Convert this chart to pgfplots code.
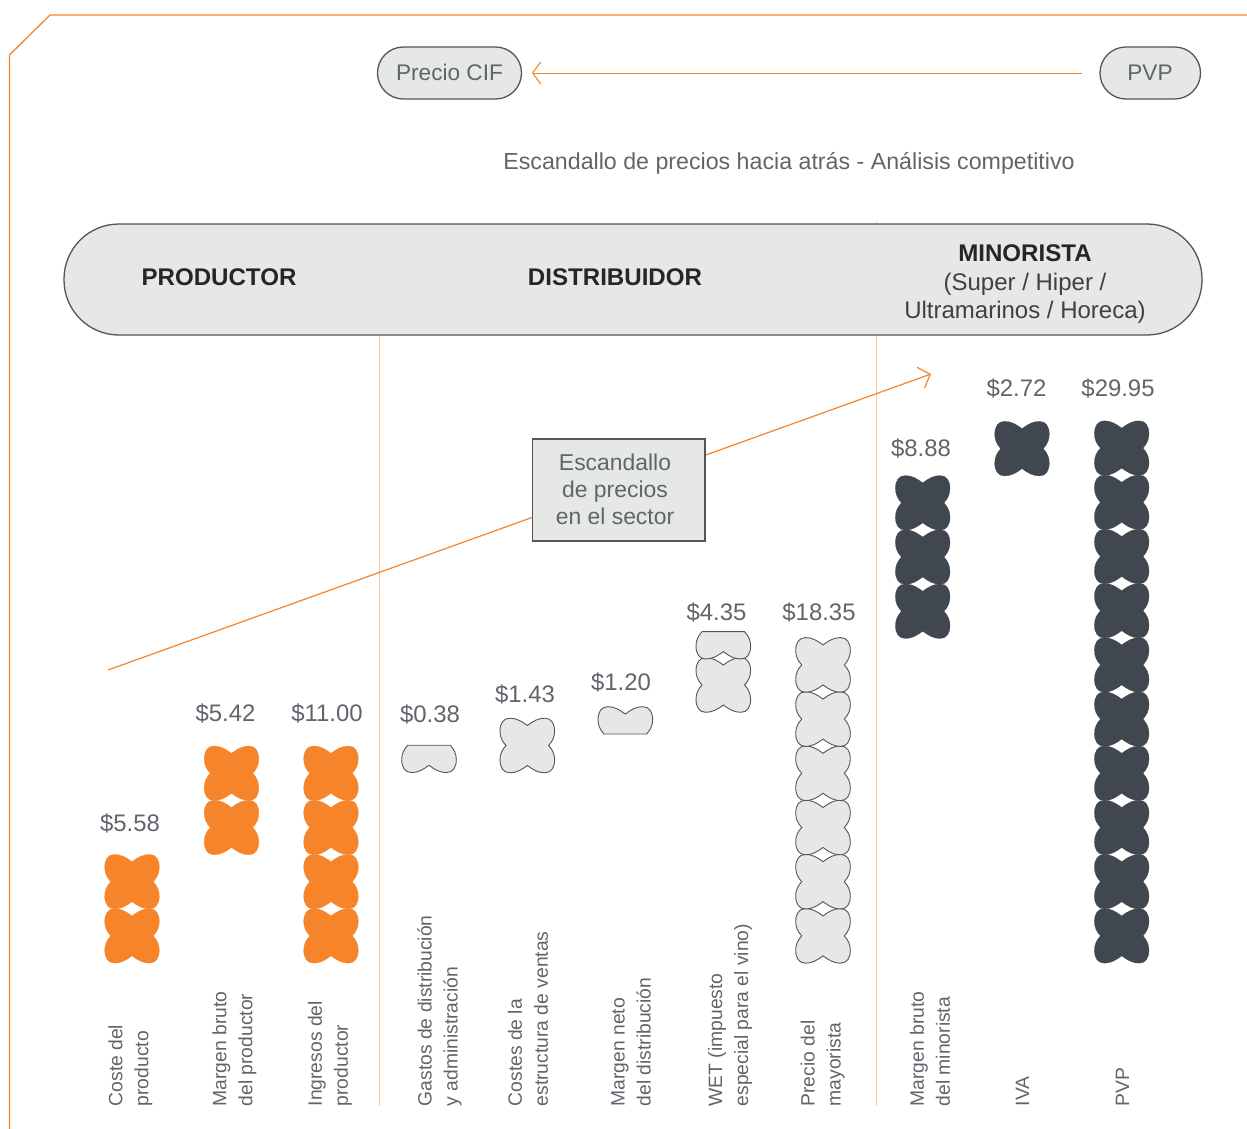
\documentclass[border=0pt]{standalone}
\usepackage{fontspec}
\setmainfont{Liberation Sans}
\usepackage{pgfplots}
\usepackage{pgfplotstable}
\pgfplotsset{compat=1.18}
\usetikzlibrary{arrows.meta}

\definecolor{Naranja}{HTML}{F5842A}
\definecolor{NaranjaClaro}{HTML}{F9C79B}
\definecolor{Oscuro}{HTML}{40474F}
\definecolor{Gris}{HTML}{E6E8E6}
\definecolor{Texto}{HTML}{5F656B}
\definecolor{Borde}{HTML}{50565C}

% one glyph: a four-lobed flower, 1pt = 1 reference pixel
\newcommand{\fc}[6]{\pgfpathcurveto{\pgfpoint{#1pt}{#2pt}}{\pgfpoint{#3pt}{#4pt}}{\pgfpoint{#5pt}{#6pt}}}
\newcommand{\lobeTR}{\fc{6}{24.5}{11}{27.3}{17.5}{27.3}\fc{24}{27.3}{27.3}{22}{27.3}{14.5}\fc{27.3}{9}{25.5}{4.5}{21.3}{0}}
\newcommand{\lobeBR}{\fc{25.5}{-4.5}{27.3}{-9}{27.3}{-14.5}\fc{27.3}{-22}{24}{-27.3}{17.5}{-27.3}\fc{11}{-27.3}{6}{-24.5}{0}{-20}}
\newcommand{\lobeBL}{\fc{-6}{-24.5}{-11}{-27.3}{-17.5}{-27.3}\fc{-24}{-27.3}{-27.3}{-22}{-27.3}{-14.5}\fc{-27.3}{-9}{-25.5}{-4.5}{-21.3}{0}}
\newcommand{\lobeTL}{\fc{-25.5}{4.5}{-27.3}{9}{-27.3}{14.5}\fc{-27.3}{22}{-24}{27.3}{-17.5}{27.3}\fc{-11}{27.3}{-6}{24.5}{0}{20}}
\pgfdeclareplotmark{flor}{\pgfpathmoveto{\pgfpoint{0pt}{20pt}}\lobeTR\lobeBR\lobeBL\lobeTL\pgfpathclose\pgfusepathqfillstroke}
\pgfdeclareplotmark{florabajo}{\pgfpathmoveto{\pgfpoint{21.3pt}{0pt}}\lobeBR\lobeBL\pgfpathclose\pgfusepathqfillstroke}
\pgfdeclareplotmark{florarriba}{\pgfpathmoveto{\pgfpoint{-21.3pt}{0pt}}\lobeTL\lobeTR\pgfpathclose\pgfusepathqfillstroke}

% glyph centres: x position, y in glyphs stacked above the baseline
\pgfplotstableread{
x level
132 0.5
132 1.5
231.5 2.5
231.5 3.5
331 0.5
331 1.5
331 2.5
331 3.5
}\productor
\pgfplotstableread{
x level
527.3 4.013
723.3 5.129
823 0.5
823 1.5
823 2.5
823 3.5
823 4.5
823 5.5
}\distribuidor
\pgfplotstableread{
x level
429 4.017
723.3 6.113
}\distribabajo
\pgfplotstableread{
x level
625.3 4.225
}\distribarriba
\pgfplotstableread{
x level
922.7 6.49
922.7 7.49
922.7 8.49
1022 9.49
1121.7 0.5
1121.7 1.5
1121.7 2.5
1121.7 3.5
1121.7 4.5
1121.7 5.5
1121.7 6.5
1121.7 7.5
1121.7 8.5
1121.7 9.5
}\minorista

\newcommand{\valor}[3]{\node[anchor=base,inner sep=0pt,text=Texto,font=\fontsize{23.9}{26}\selectfont] at (axis cs:#1,#2) {\$#3};}
\newcommand{\etiqueta}[2]{\node[rotate=90,anchor=west,inner sep=0pt,align=left,text=Texto,font=\fontsize{19.3}{26}\selectfont] at (axis cs:#1,1106.5) {#2};}

\begin{document}
\begin{tikzpicture}
\useasboundingbox (0,0) rectangle (1247pt,1129pt);

% frame, pills and text, in reference pixels
\begin{axis}[
  at={(0,0)}, anchor=south west, scale only axis, width=1247pt, height=1129pt,
  xmin=0, xmax=1247, ymin=0, ymax=1129, y dir=reverse, hide axis, clip=false,
]
\draw[Naranja,line width=1.3pt] (axis cs:1247,15) -- (axis cs:50,15) -- (axis cs:9.5,55) -- (axis cs:9.5,1129);
\draw[NaranjaClaro,line width=1.2pt] (axis cs:379.5,335) -- (axis cs:379.5,1105.5);
\draw[NaranjaClaro,line width=1.2pt] (axis cs:876.5,221) -- (axis cs:876.5,1105.5);

\draw[Borde,fill=Gris,line width=1.3pt,rounded corners=55pt] (axis cs:64,224) rectangle (axis cs:1202,335);
\draw[Borde,fill=Gris,line width=1.3pt,rounded corners=25.9pt] (axis cs:377.5,47) rectangle (axis cs:521.5,99);
\draw[Borde,fill=Gris,line width=1.3pt,rounded corners=25.9pt] (axis cs:1100,47) rectangle (axis cs:1200.5,99);
\node[text=Texto,font=\fontsize{22.6}{26}\selectfont] at (axis cs:449.5,72.5) {Precio CIF};
\node[text=Texto,font=\fontsize{22.6}{26}\selectfont] at (axis cs:1150,72.5) {PVP};
\draw[Naranja,line width=0.9pt,-{Straight Barb[length=8pt,width=22pt,line width=1.1pt]}] (axis cs:1082,73) -- (axis cs:532,73);
\node[anchor=base,inner sep=0pt,text=Texto,font=\fontsize{23.2}{26}\selectfont] at (axis cs:789,169) {Escandallo de precios hacia atrás - Análisis competitivo};

\node[anchor=base,inner sep=0pt,text=black!85,font=\fontsize{24.1}{26}\selectfont\bfseries] at (axis cs:219,285) {PRODUCTOR};
\node[anchor=base,inner sep=0pt,text=black!85,font=\fontsize{24.1}{26}\selectfont\bfseries] at (axis cs:615,285) {DISTRIBUIDOR};
\node[anchor=base,inner sep=0pt,text=black!85,font=\fontsize{24.1}{26}\selectfont\bfseries] at (axis cs:1025,261) {MINORISTA};
\node[anchor=base,inner sep=0pt,text=black!75,font=\fontsize{24}{26}\selectfont] at (axis cs:1025,290) {(Super / Hiper /};
\node[anchor=base,inner sep=0pt,text=black!75,font=\fontsize{24}{26}\selectfont] at (axis cs:1025,318) {Ultramarinos / Horeca)};

\draw[Naranja,line width=1.2pt,-{Straight Barb[length=10pt,width=22pt,line width=1.2pt]}] (axis cs:108,670) -- (axis cs:931,374);
\draw[Borde,fill=Gris,line width=1.1pt] (axis cs:532.5,439) rectangle (axis cs:705,541);
\node[anchor=base,inner sep=0pt,text=Texto,font=\fontsize{22.9}{26}\selectfont] at (axis cs:615,470) {Escandallo};
\node[anchor=base,inner sep=0pt,text=Texto,font=\fontsize{22.9}{26}\selectfont] at (axis cs:615,497) {de precios};
\node[anchor=base,inner sep=0pt,text=Texto,font=\fontsize{22.9}{26}\selectfont] at (axis cs:615,524) {en el sector};

\valor{130}{831}{5.58}
\valor{225.5}{721}{5.42}
\valor{327}{721}{11.00}
\valor{430}{722}{0.38}
\valor{525}{702}{1.43}
\valor{621}{690}{1.20}
\valor{716.5}{620}{4.35}
\valor{819}{620}{18.35}
\valor{921}{456}{8.88}
\valor{1016.5}{396}{2.72}
\valor{1118}{396}{29.95}

\etiqueta{130.5}{Coste del\\producto}
\etiqueta{234.5}{Margen bruto\\del productor}
\etiqueta{330}{Ingresos del\\productor}
\etiqueta{439.5}{Gastos de distribución\\y administración}
\etiqueta{528}{Costes de la\\estructura de ventas}
\etiqueta{631}{Margen neto\\del distribución}
\etiqueta{730}{WET (impuesto\\especial para el vino)}
\etiqueta{822.5}{Precio del\\mayorista}
\etiqueta{930}{Margen bruto\\del minorista}
\etiqueta{1022.5}{IVA}
\etiqueta{1122.5}{PVP}
\end{axis}

% the glyphs; y counts glyphs above the baseline at pixel row 963
\begin{axis}[
  at={(0,0)}, anchor=south west, scale only axis, width=1247pt, height=1129pt,
  xmin=0, xmax=1247, ymin=-3.063, ymax=17.768, hide axis, clip=false,
]
\addplot[only marks,mark=flor,mark options={fill=Naranja,draw=Naranja,line width=0.2pt}] table[x=x,y=level] {\productor};
\addplot[only marks,mark=flor,mark options={fill=Gris,draw=Borde,line width=0.9pt}] table[x=x,y=level] {\distribuidor};
\addplot[only marks,mark=florabajo,mark options={fill=Gris,draw=Borde,line width=0.9pt}] table[x=x,y=level] {\distribabajo};
\addplot[only marks,mark=florarriba,mark options={fill=Gris,draw=Borde,line width=0.9pt}] table[x=x,y=level] {\distribarriba};
\addplot[only marks,mark=flor,mark options={fill=Oscuro,draw=Oscuro,line width=0.2pt}] table[x=x,y=level] {\minorista};
\end{axis}
\end{tikzpicture}
\end{document}
